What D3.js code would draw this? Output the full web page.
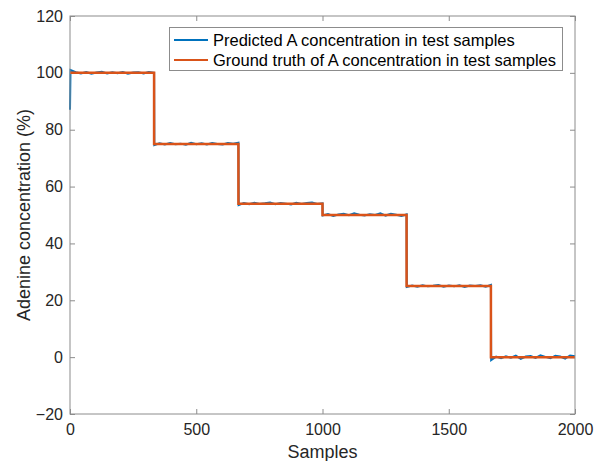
<!DOCTYPE html>
<html>
<head>
<meta charset="utf-8">
<script src="https://cdn.jsdelivr.net/npm/d3@7"></script>
<style>
  body { margin: 0; background: #fff; }
  svg { display: block; font-family: "Liberation Sans", Arial, Helvetica, sans-serif; }
</style>
</head>
<body>
<svg id="chart" width="602" height="461"></svg>
<script>
// ---- data ----
const xTicks = [0, 500, 1000, 1500, 2000];
const yTicks = [-20, 0, 20, 40, 60, 80, 100, 120];
const stepBounds = [0, 333, 667, 1000, 1333, 1667, 2000];
const truthLevels = [100, 75, 54, 50, 25, 0];
// predicted values per segment (approx. every 20 samples)
const pred1 = [87, 101, 100.2, 99.8, 100.3, 99.7, 100.1, 100.4, 99.8, 100.2, 99.9, 100.3, 99.7, 100.1, 100.2, 99.8, 100.3, 100.0];
const pred2 = [74.6, 75.2, 74.8, 75.3, 74.9, 75.1, 74.7, 75.4, 74.9, 75.2, 74.8, 75.3, 75.0, 74.8, 75.3, 75.1, 75.4];
const pred3 = [53.5, 54.2, 53.8, 54.3, 53.9, 54.1, 54.4, 53.8, 54.2, 54.0, 53.7, 54.3, 53.9, 54.2, 54.4, 53.9, 54.1];
const pred4 = [49.8, 50.3, 49.7, 50.2, 50.4, 49.9, 50.6, 50.1, 49.8, 50.3, 50.0, 50.6, 49.8, 50.4, 50.1, 49.7, 50.2];
const pred5 = [24.7, 25.2, 24.8, 25.3, 24.9, 25.1, 25.4, 24.8, 25.2, 24.9, 25.3, 24.7, 25.2, 25.0, 25.3, 24.8, 25.4];
const pred6 = [-1.0, 0.2, -0.4, 0.3, -0.2, 0.5, -0.6, 0.2, 0.4, -0.3, 0.6, 0.1, -0.4, 0.5, 0.2, -0.5, 0.6, 0.3];
const predSegments = [pred1, pred2, pred3, pred4, pred5, pred6];
const legendLabels = ["Predicted A concentration in test samples", "Ground truth of A concentration in test samples"];
const colors = ["#0072BD", "#D95319"];

// ---- build series ----
const truth = [];
truthLevels.forEach((v, i) => {
  truth.push([stepBounds[i], v]);
  truth.push([stepBounds[i + 1], v]);
});
const predicted = [];
predSegments.forEach((seg, i) => {
  const a = stepBounds[i] + (i === 0 ? 0 : 1), b = stepBounds[i + 1];
  seg.forEach((v, j) => {
    let xv;
    if (i === 0 && j === 0) xv = 0;
    else if (i === 0) xv = 2 + (b - 2) * (j - 1) / (seg.length - 2);
    else xv = a + (b - a) * j / (seg.length - 1);
    predicted.push([xv, v]);
  });
});

// ---- layout ----
const svg = d3.select("#chart");
const L = 70, R = 575, T = 16, B = 414;
const x = d3.scaleLinear().domain([0, 2000]).range([L, R]);
const y = d3.scaleLinear().domain([-20, 120]).range([B, T]);
const axisColor = "#8c8c8c", textColor = "#262626";

// ticks (inward) on all four sides
const tickLen = 5;
const xAxisB = d3.axisBottom(x).tickValues(xTicks).tickSizeInner(-tickLen).tickSizeOuter(0).tickPadding(10).tickFormat(d3.format("d"));
const xAxisT = d3.axisTop(x).tickValues(xTicks).tickSizeInner(-tickLen).tickSizeOuter(0).tickFormat("");
const yAxisL = d3.axisLeft(y).tickValues(yTicks).tickSizeInner(-tickLen).tickSizeOuter(0).tickPadding(7).tickFormat(d3.format("d"));
const yAxisR = d3.axisRight(y).tickValues(yTicks).tickSizeInner(-tickLen).tickSizeOuter(0).tickFormat("");

function styleAxis(g) {
  g.select(".domain").remove();
  g.selectAll(".tick line").attr("stroke", axisColor);
  g.selectAll(".tick text").attr("fill", textColor).style("font-size", "16px");
}
svg.append("g").attr("transform", `translate(0,${B})`).call(xAxisB).call(styleAxis);
svg.append("g").attr("transform", `translate(0,${T})`).call(xAxisT).call(styleAxis);
svg.append("g").attr("transform", `translate(${L},0)`).call(yAxisL).call(styleAxis);
svg.append("g").attr("transform", `translate(${R},0)`).call(yAxisR).call(styleAxis);

// data lines
const line = d3.line().x(d => x(d[0])).y(d => y(d[1]));
svg.append("path").datum(predicted).attr("d", line)
  .attr("fill", "none").attr("stroke", colors[0]).attr("stroke-width", 2);
svg.append("path").datum(truth).attr("d", line)
  .attr("fill", "none").attr("stroke", colors[1]).attr("stroke-width", 2.5);

// box
svg.append("rect").attr("x", L).attr("y", T).attr("width", R - L).attr("height", B - T)
  .attr("fill", "none").attr("stroke", axisColor).attr("stroke-width", 1);

// axis labels
svg.append("text").attr("x", (L + R) / 2).attr("y", 458).attr("text-anchor", "middle")
  .attr("fill", textColor).style("font-size", "18px").text("Samples");
svg.append("text").attr("transform", `translate(30,${(T + B) / 2}) rotate(-90)`).attr("text-anchor", "middle")
  .attr("fill", textColor).style("font-size", "18px").text("Adenine concentration (%)");

// legend
const lg = svg.append("g");
lg.append("rect").attr("x", 169.5).attr("y", 27.5).attr("width", 393).attr("height", 43)
  .attr("fill", "#fff").attr("stroke", "#8c8c8c").attr("stroke-width", 1);
legendLabels.forEach((t, i) => {
  const yy = 40 + i * 20;
  lg.append("line").attr("x1", 174).attr("x2", 208).attr("y1", yy).attr("y2", yy)
    .attr("stroke", colors[i]).attr("stroke-width", 2);
  lg.append("text").attr("x", 213).attr("y", yy + 6).attr("fill", "#000")
    .style("font-size", "16.5px").text(t);
});
</script>
</body>
</html>
